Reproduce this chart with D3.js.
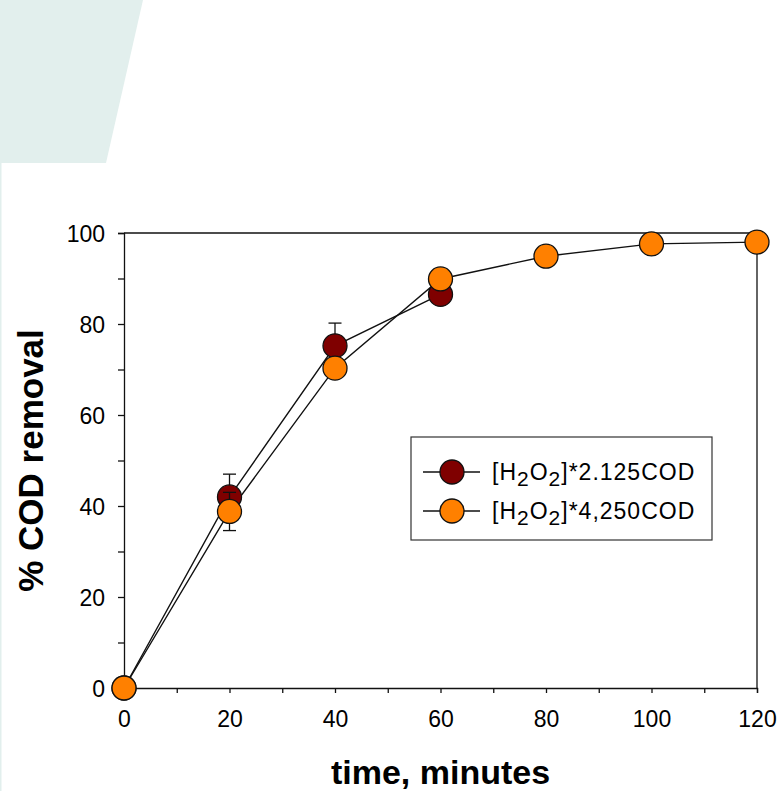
<!DOCTYPE html>
<html>
<head>
<meta charset="utf-8">
<script src="https://d3js.org/d3.v7.min.js"></script>
<style>
  body { margin: 0; background: #fff; }
  svg { display: block; font-family: "Liberation Sans", Arial, sans-serif; }
</style>
</head>
<body>
<svg id="chart" width="780" height="791"></svg>
<script>
// data
var times1 = [0, 20, 40, 60];
var cod1 = [0, 42, 75.2, 86.5];
var err1 = [0, 5, 5, 1];

var times2 = [0, 20, 40, 60, 80, 100, 120];
var cod2 = [0, 38.8, 70.3, 89.9, 94.9, 97.6, 98];
var err2 = [0, 4.2, 2, 1, 1, 0.5, 0.5];

var xTicks = [0, 10, 20, 30, 40, 50, 60, 70, 80, 90, 100, 110, 120];
var yTicks = [0, 10, 20, 30, 40, 50, 60, 70, 80, 90, 100];
var legendNames = [["[H", "2", "O", "2", "]*2.125COD"], ["[H", "2", "O", "2", "]*4,250COD"]];

var colors = ["#7f0000", "#ff8000"];

var svg = d3.select("#chart");

// pale background shape top left
svg.append("path")
    .attr("d", "M0,0 L143,0 L106,163 L0,163 Z")
    .attr("fill", "#e2efed");
svg.append("rect")
    .attr("x", 0).attr("y", 163).attr("width", 1.5).attr("height", 628)
    .attr("fill", "#e2efed");

var x = d3.scaleLinear().domain([0, 120]).range([124, 757]);
var y = d3.scaleLinear().domain([0, 100]).range([688, 233]);

// frame top + right
svg.append("line")
    .attr("x1", x(0)).attr("x2", x(120)).attr("y1", y(100)).attr("y2", y(100))
    .attr("stroke", "#111").attr("stroke-width", 1.3);
svg.append("line")
    .attr("x1", x(120)).attr("x2", x(120)).attr("y1", y(100)).attr("y2", y(0))
    .attr("stroke", "#111").attr("stroke-width", 1.3);

var xAxis = svg.append("g")
    .attr("transform", "translate(0," + y(0) + ")")
    .call(d3.axisBottom(x).tickValues(xTicks).tickSize(5).tickPadding(18)
        .tickFormat(function(d) { return d % 20 == 0 ? d : ""; }));

var yAxis = svg.append("g")
    .attr("transform", "translate(" + x(0) + ",0)")
    .call(d3.axisLeft(y).tickValues(yTicks).tickSize(6).tickPadding(13)
        .tickFormat(function(d) { return d % 20 == 0 ? d : ""; }));

[xAxis, yAxis].forEach(function(a) {
    a.attr("font-size", null);
    a.select(".domain").attr("stroke", "#111").attr("stroke-width", 1.3);
    a.selectAll(".tick line").attr("stroke", "#111").attr("stroke-width", 1.3);
    a.selectAll(".tick text")
        .attr("fill", "#000")
        .style("font-size", "23px")
        .style("font-family", "'Liberation Sans', Arial, sans-serif");
});
yAxis.selectAll(".tick text").attr("dy", "0.36em");

// axis titles
svg.append("text")
    .attr("x", (x(0) + x(120)) / 2).attr("y", 784)
    .attr("text-anchor", "middle")
    .style("font-size", "34px").style("font-weight", "bold")
    .text("time, minutes");

svg.append("text")
    .attr("transform", "translate(43," + (y(0) + y(100)) / 2 + ") rotate(-90)")
    .attr("text-anchor", "middle")
    .style("font-size", "35px").style("font-weight", "bold")
    .text("% COD removal");

var line = d3.line()
    .x(function(d) { return x(d[0]); })
    .y(function(d) { return y(d[1]); });

var series = [
    { t: times1, v: cod1, e: err1, color: colors[0] },
    { t: times2, v: cod2, e: err2, color: colors[1] }
];

series.forEach(function(s) {
    s.pts = s.t.map(function(t, i) { return [t, s.v[i], s.e[i]]; });
    svg.append("path")
        .datum(s.pts)
        .attr("d", line)
        .attr("fill", "none")
        .attr("stroke", "#111")
        .attr("stroke-width", 1.4);
});

series.forEach(function(s) {
    var eb = svg.append("g");
    s.pts.filter(function(d) { return d[2] > 0; }).forEach(function(d) {
        eb.append("line")
            .attr("x1", x(d[0])).attr("x2", x(d[0]))
            .attr("y1", y(d[1] - d[2])).attr("y2", y(d[1] + d[2]))
            .attr("stroke", "#111").attr("stroke-width", 1.3);
        [d[1] - d[2], d[1] + d[2]].forEach(function(v) {
            eb.append("line")
                .attr("x1", x(d[0]) - 6.5).attr("x2", x(d[0]) + 6.5)
                .attr("y1", y(v)).attr("y2", y(v))
                .attr("stroke", "#111").attr("stroke-width", 1.3);
        });
    });
    svg.append("g").selectAll("circle")
        .data(s.pts)
        .join("circle")
        .attr("cx", function(d) { return x(d[0]); })
        .attr("cy", function(d) { return y(d[1]); })
        .attr("r", 12)
        .attr("fill", s.color)
        .attr("stroke", "#111")
        .attr("stroke-width", 1.3);
});

// legend
var lg = svg.append("g");
lg.append("rect")
    .attr("x", 411).attr("y", 437).attr("width", 301).attr("height", 103)
    .attr("fill", "#fff").attr("stroke", "#333").attr("stroke-width", 1.2);

legendNames.forEach(function(name, i) {
    var cy = 472 + i * 39;
    lg.append("line")
        .attr("x1", 423).attr("x2", 480).attr("y1", cy).attr("y2", cy)
        .attr("stroke", "#111").attr("stroke-width", 1.4);
    lg.append("circle")
        .attr("cx", 452).attr("cy", cy).attr("r", 12)
        .attr("fill", colors[i]).attr("stroke", "#111").attr("stroke-width", 1.3);
    var t = lg.append("text")
        .attr("x", 492).attr("y", cy + 8)
        .style("font-size", "23px")
        .style("letter-spacing", "1px");
    name.forEach(function(part, j) {
        var sub = (j == 1 || j == 3);
        var ts = t.append("tspan").text(part);
        if (sub) ts.attr("dy", 6).style("font-size", "21px");
        else if (j > 1) ts.attr("dy", -6);
    });
});
</script>
</body>
</html>
